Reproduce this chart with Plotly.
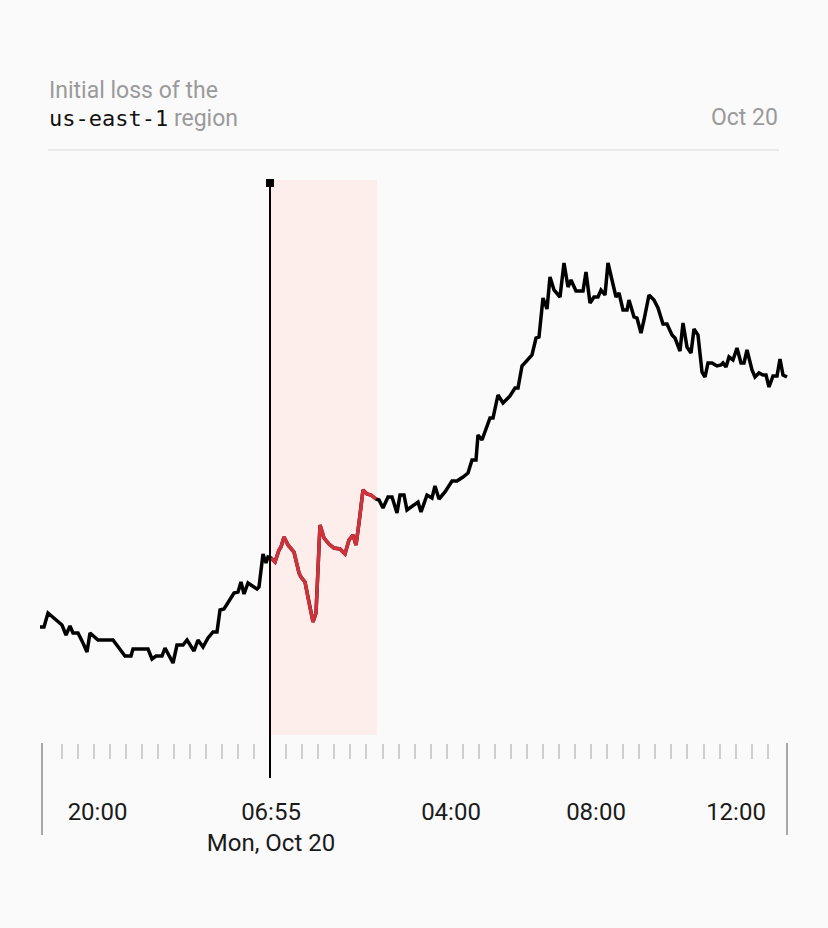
import plotly.graph_objects as go

# ---- data ----
# time in minutes along the axis, value in arbitrary units
times = [0, 4, 8, 15, 22, 26, 30, 33, 38, 43, 47, 50, 58, 73, 80, 85, 91, 93, 108, 112,
         116, 122, 125, 133, 137, 143, 147, 154, 158, 163, 168, 173, 177, 180, 184, 194, 198, 201, 204, 208,
         217, 219, 223, 226, 228, 231, 235, 239, 241, 244, 248, 254, 259, 261, 265, 269, 273, 276, 280, 284,
         289, 294, 300, 305, 309, 313, 316, 319, 323, 327, 331, 336, 339, 343, 348, 352, 357, 360, 364, 367,
         373, 378, 381, 387, 392, 395, 399, 405, 412, 417, 423, 428, 432, 436, 438, 442, 450, 453, 458, 463,
         470, 475, 478, 482, 492, 496, 499, 503, 507, 510, 514, 520, 524, 528, 531, 536, 543, 546, 550, 554,
         558, 561, 565, 568, 576, 579, 583, 587, 589, 594, 597, 601, 604, 609, 614, 618, 623, 627, 632, 635,
         640, 643, 647, 651, 654, 658, 662, 665, 668, 672, 677, 681, 683, 686, 689, 693, 697, 701, 704, 707,
         712, 715, 719, 723, 726, 729, 733, 737, 740, 743, 747]
values = [73, 73, 87, 81, 75, 65, 74, 67, 67, 57, 48, 67, 60, 60, 50, 44, 44, 51, 51, 41,
          44, 44, 52, 37, 55, 55, 60, 49, 60, 53, 62, 68, 68, 90, 91, 107, 108, 118, 106, 117,
          111, 113, 146, 137, 143, 142, 138, 150, 153, 163, 155, 148, 127, 123, 118, 97, 78, 87, 175, 162,
          156, 152, 151, 146, 160, 165, 155, 177, 210, 206, 205, 201, 200, 192, 203, 203, 187, 205, 205, 190,
          194, 198, 188, 205, 202, 214, 201, 208, 219, 219, 223, 227, 240, 240, 265, 260, 282, 282, 305, 297,
          304, 312, 312, 334, 345, 362, 363, 402, 391, 423, 410, 403, 437, 413, 420, 409, 409, 428, 397, 403,
          403, 410, 405, 437, 403, 407, 390, 390, 400, 383, 382, 367, 380, 405, 400, 392, 376, 376, 365, 362,
          349, 377, 353, 347, 371, 365, 328, 323, 337, 337, 334, 335, 337, 333, 343, 340, 352, 337, 337, 350,
          330, 323, 327, 325, 325, 313, 324, 324, 341, 325, 323]

incident_start = 230      # 06:55 marker
window_start = 231        # highlighted window
window_end = 337

tick_positions = [57.5, 231, 411, 556, 696]
tick_labels = ["20:00", "06:55<br>Mon, Oct 20", "04:00", "08:00", "12:00"]
minor_tick_positions = [21.5 + 16.05 * k for k in range(45)]
edge_positions = [2, 747]

x_range = [0, 748]
y_range = [-43, 520]

# ---- layout geometry ----
W, H = 828, 928
L, R, T, B = 40, 40, 180, 185
plot_h = H - T - B


def px_to_paper_y(py):
    return (H - B - py) / plot_h


def x_to_paper(x):
    return (x - x_range[0]) / (x_range[1] - x_range[0])


red_t = [t for t in times if window_start <= t <= window_end + 0.5]
red_v = [v for t, v in zip(times, values) if window_start <= t <= window_end + 0.5]

fig = go.Figure()

fig.add_trace(go.Scatter(x=times, y=values, mode="lines",
                         line=dict(color="#000000", width=3.5), hoverinfo="skip"))
fig.add_trace(go.Scatter(x=red_t, y=red_v, mode="lines",
                         line=dict(color="#d1313a", width=3.5), hoverinfo="skip"))
fig.add_trace(go.Scatter(x=[incident_start], y=[517], mode="markers", cliponaxis=False,
                         marker=dict(symbol="square", size=8, color="#000000"), hoverinfo="skip"))

shapes = [
    # highlight window
    dict(type="rect", xref="x", yref="y", x0=window_start, x1=window_end, y0=-35, y1=y_range[1],
         fillcolor="#fdeeec", line=dict(width=0), layer="below"),
    # incident vertical line
    dict(type="line", xref="paper", yref="paper",
         x0=x_to_paper(incident_start), x1=x_to_paper(incident_start),
         y0=px_to_paper_y(186), y1=px_to_paper_y(778),
         line=dict(color="#000000", width=2)),
    # header rule
    dict(type="line", xref="paper", yref="paper",
         x0=x_to_paper(8), x1=x_to_paper(739),
         y0=px_to_paper_y(150), y1=px_to_paper_y(150),
         line=dict(color="#e3e3e3", width=1.5)),
]
for e in edge_positions:
    shapes.append(dict(type="line", xref="paper", yref="paper",
                       x0=x_to_paper(e), x1=x_to_paper(e),
                       y0=px_to_paper_y(743), y1=px_to_paper_y(835),
                       line=dict(color="#8c8c8c", width=1.5)))

header_text = ("<span style='font-size:23px'>Initial loss of the</span><br>"
               "<span style='font-family:DejaVu Sans Mono;color:#111111;font-size:22px'>us-east-1</span>"
               "<span style='font-size:23px'> region</span>")

annotations = [
    dict(text=header_text, xref="paper", yref="paper", align="left",
         x=x_to_paper(7), y=px_to_paper_y(104), xanchor="left", yanchor="middle",
         showarrow=False, font=dict(family="Roboto", size=21.5, color="#9a9a9a")),
    dict(text="Oct 20", xref="paper", yref="paper",
         x=x_to_paper(740), y=px_to_paper_y(117), xanchor="right", yanchor="middle",
         showarrow=False, font=dict(family="Roboto", size=23, color="#9a9a9a")),
]

fig.update_layout(
    width=W, height=H,
    margin=dict(l=L, r=R, t=T, b=B),
    paper_bgcolor="#fafafa", plot_bgcolor="#fafafa",
    showlegend=False,
    shapes=shapes,
    annotations=annotations,
    xaxis=dict(range=x_range, showgrid=False, zeroline=False, showline=False,
               tickmode="array", tickvals=tick_positions, ticktext=tick_labels,
               ticks="", ticklen=0, ticklabelstandoff=52,
               tickfont=dict(family="Roboto", size=24, color="#1a1a1a"),
               minor=dict(tickmode="array", tickvals=minor_tick_positions, ticks="outside",
                          ticklen=15, tickwidth=1.5, tickcolor="#cfcfcf", showgrid=False)),
    yaxis=dict(range=y_range, showgrid=False, zeroline=False, showline=False,
               showticklabels=False, ticks=""),
)

fig.write_html("out.html", config={"displayModeBar": False},
               post_script="document.body.style.margin='0';document.body.style.background='#fafafa';")
